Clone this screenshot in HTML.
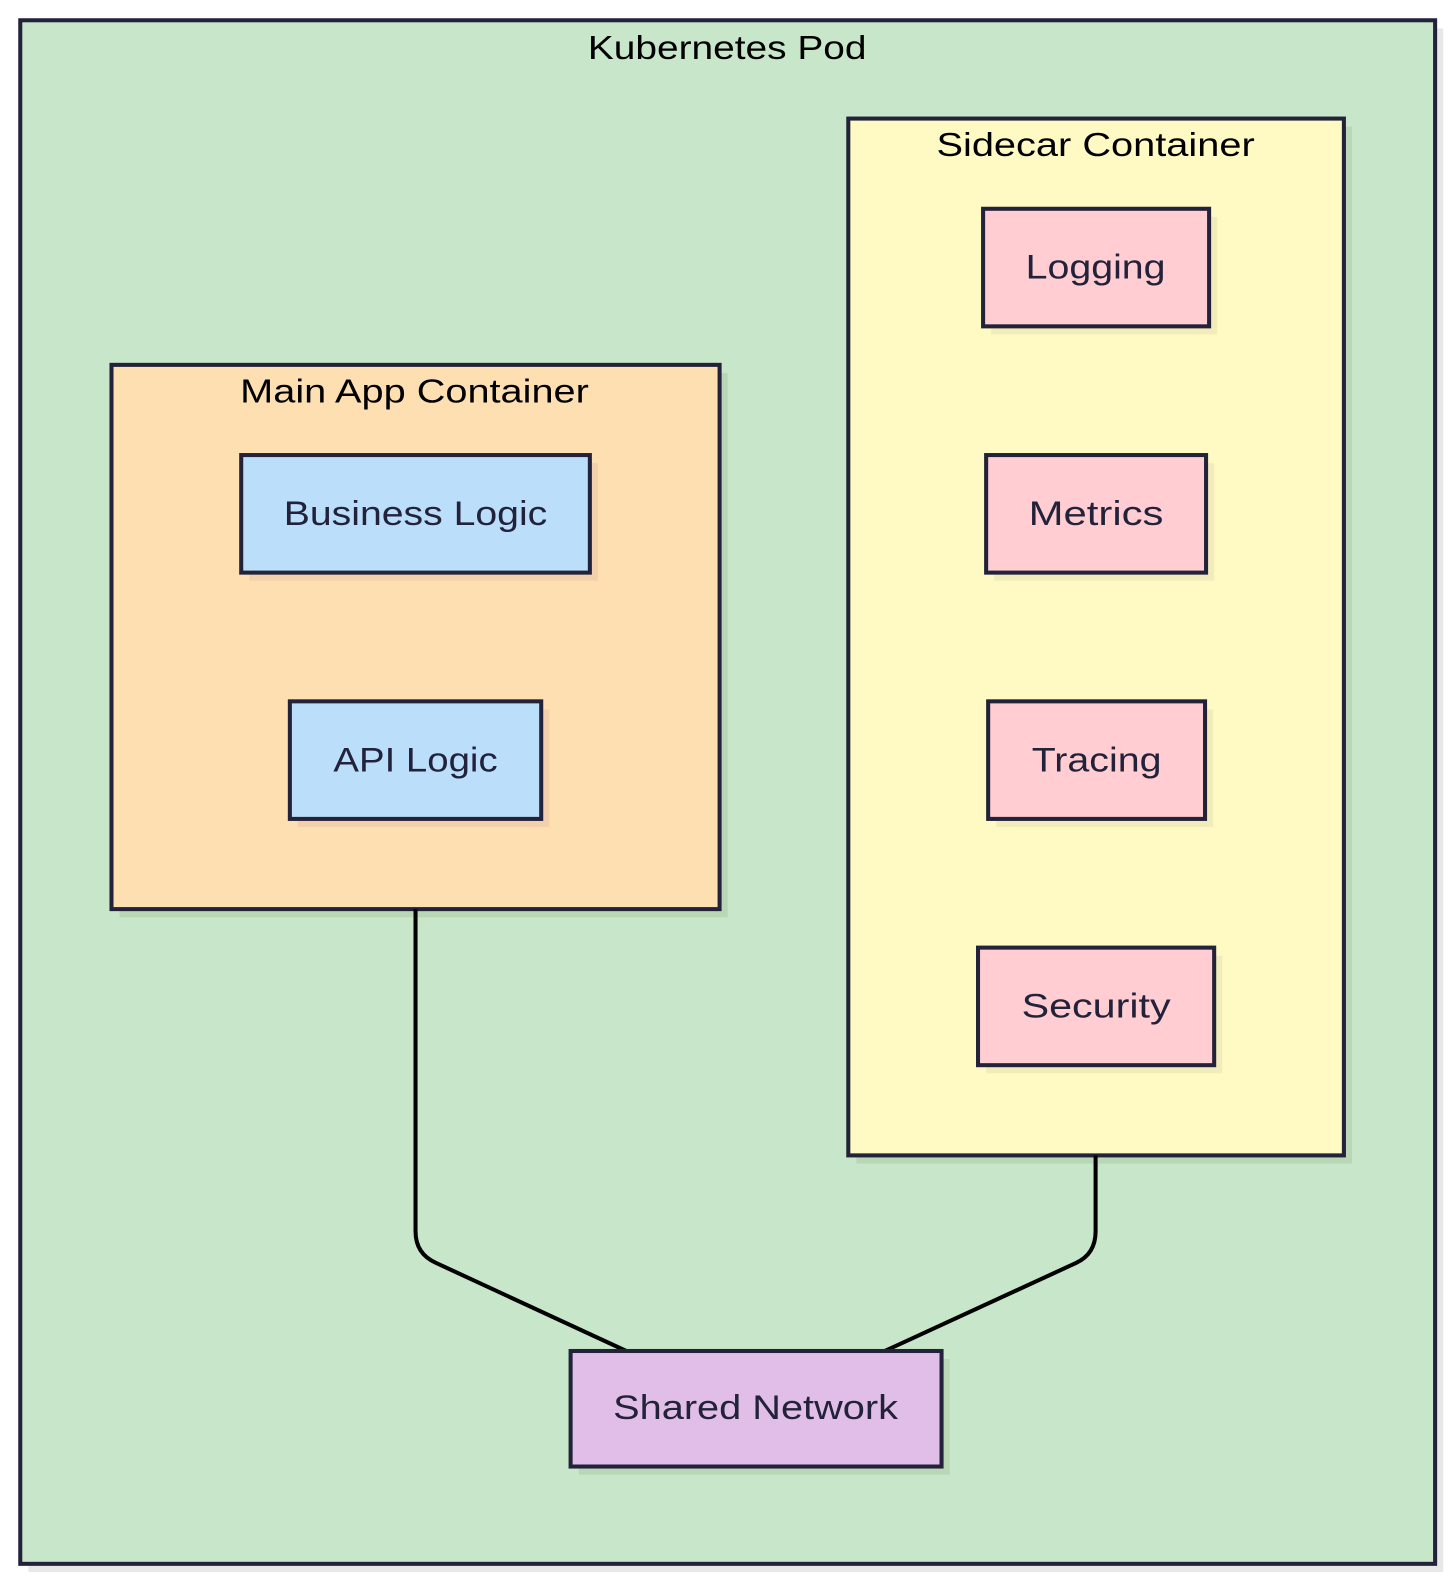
<!DOCTYPE html>
<html><head><meta charset="utf-8"><style>
html,body{margin:0;padding:0;background:#fff;overflow:hidden;width:1456px;height:1587px;}
svg{display:block;}
text{font-family:"Liberation Sans","DejaVu Sans",sans-serif;fill:#22223a;font-size:34px;}
.t{fill:#000;font-size:33px;}
</style></head><body>
<svg width="1456" height="1587" xmlns="http://www.w3.org/2000/svg">
<g transform="scale(1.0135)">
<g stroke="#22223a" stroke-width="4">
<rect x="28" y="28" width="1396" height="1523" fill="#e8e8e8" stroke="none"/>
<rect x="20" y="20" width="1396" height="1523" fill="#c8e6c9"/>
<rect x="845" y="125" width="489" height="1023" fill="#b9d6b5" stroke="none"/>
<rect x="837" y="117" width="489" height="1023" fill="#fff9c4"/>
<rect x="118" y="368" width="600" height="537" fill="#b9d6b5" stroke="none"/>
<rect x="110" y="360" width="600" height="537" fill="#fddfb1"/>
<rect x="246" y="457" width="344" height="116" fill="#f3d0ab" stroke="none"/>
<rect x="238" y="449" width="344" height="116" fill="#bbdefb"/>
<rect x="294" y="700" width="248" height="116" fill="#f3d0ab" stroke="none"/>
<rect x="286" y="692" width="248" height="116" fill="#bbdefb"/>
<rect x="978" y="214" width="223" height="116" fill="#f2ecbb" stroke="none"/>
<rect x="970" y="206" width="223" height="116" fill="#ffcdd2"/>
<rect x="981" y="457" width="217" height="116" fill="#f2ecbb" stroke="none"/>
<rect x="973" y="449" width="217" height="116" fill="#ffcdd2"/>
<rect x="983" y="700" width="214" height="116" fill="#f2ecbb" stroke="none"/>
<rect x="975" y="692" width="214" height="116" fill="#ffcdd2"/>
<rect x="973" y="943" width="233" height="116" fill="#f2ecbb" stroke="none"/>
<rect x="965" y="935" width="233" height="116" fill="#ffcdd2"/>
<rect x="571" y="1341" width="366" height="114" fill="#b9d6b5" stroke="none"/>
<path d="M410 897 V1215 Q410 1237 430 1246 L618 1333 M1081 1140 V1215 Q1081 1237 1062 1246 L873 1333" fill="none" stroke="#000"/>
<rect x="563" y="1333" width="366" height="114" fill="#e1bee7"/>
</g>
<text class="t" x="580" y="58" textLength="275" lengthAdjust="spacingAndGlyphs">Kubernetes Pod</text>
<text class="t" x="924" y="154" textLength="314" lengthAdjust="spacingAndGlyphs">Sidecar Container</text>
<text class="t" x="237" y="397" textLength="344" lengthAdjust="spacingAndGlyphs">Main App Container</text>
<text x="280" y="518" textLength="260" lengthAdjust="spacingAndGlyphs">Business Logic</text>
<text x="329" y="761" textLength="162" lengthAdjust="spacingAndGlyphs">API Logic</text>
<text x="1012" y="275" textLength="138" lengthAdjust="spacingAndGlyphs">Logging</text>
<text x="1015" y="518" textLength="133" lengthAdjust="spacingAndGlyphs">Metrics</text>
<text x="1018" y="761" textLength="128" lengthAdjust="spacingAndGlyphs">Tracing</text>
<text x="1008" y="1004" textLength="147" lengthAdjust="spacingAndGlyphs">Security</text>
<text x="605" y="1400" textLength="281" lengthAdjust="spacingAndGlyphs">Shared Network</text>
</g>
</svg>
</body></html>
